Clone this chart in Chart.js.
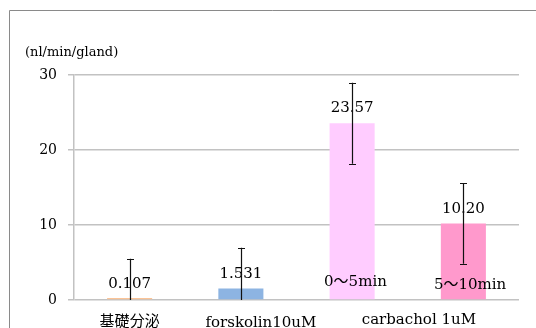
<!DOCTYPE html>
<html>
<head>
<meta charset="utf-8">
<script src="https://cdn.jsdelivr.net/npm/chart.js@4/dist/chart.umd.min.js"></script>
<style>
  html, body { margin: 0; padding: 0; background: #fff; }
  #wrap { width: 536px; height: 328px; position: relative; }
</style>
</head>
<body>
<div id="wrap"><canvas id="c" width="536" height="328"></canvas></div>
<script>
// Secretion rate per gland
const categories = ['basal', 'forskolin', 'carbachol-0-5', 'carbachol-5-10'];
const values = [0.107, 1.531, 23.57, 10.20];
const valueLabels = ['0.107', '1.531', '23.57', '10.20'];
const errors = [5.4, 5.45, 5.4, 5.37];
const barColors = ['#FBC396', '#8DB4E2', '#FFCCFF', '#FF99CC'];
const yTicks = [0, 10, 20, 30];
const yUnit = '(nl/min/gland)';

// Group captions under the axis, placed in category units
const groupLabels = ['基礎分泌', 'forskolin10uM', 'carbachol 1uM'];
const groupPos = [0, 1.18, 2.6];
const groupBaseline = [326, 327, 324];
// Captions written at the foot of the carbachol bars
const subLabels = ['0～5min', '5～10min'];
const subPos = [2.03, 3.06];
const subMiddle = [282, 285];

const SERIF = '"DejaVu Serif", "Noto Sans CJK JP", serif';

const frame = {
  id: 'frame',
  beforeDraw(chart) {
    const ctx = chart.ctx;
    ctx.save();
    ctx.strokeStyle = '#8a8a8a';
    ctx.lineWidth = 1;
    ctx.beginPath();
    ctx.moveTo(9.5, chart.height);
    ctx.lineTo(9.5, 10.5);
    ctx.lineTo(chart.width, 10.5);
    ctx.stroke();
    ctx.restore();
  }
};

const annotations = {
  id: 'annotations',
  afterDatasetsDraw(chart) {
    const ctx = chart.ctx;
    const xs = chart.scales.x;
    const ys = chart.scales.y;
    const meta = chart.getDatasetMeta(0);
    const area = chart.chartArea;
    ctx.save();
    ctx.fillStyle = '#000';
    ctx.textAlign = 'center';

    // value labels above each bar
    ctx.font = '15px ' + SERIF;
    ctx.textBaseline = 'alphabetic';
    meta.data.forEach((bar, i) => {
      const top = ys.getPixelForValue(values[i]);
      ctx.fillText(valueLabels[i], bar.x, top - 11);
    });

    // captions inside the carbachol bars
    ctx.textBaseline = 'middle';
    subLabels.forEach((t, i) => {
      ctx.fillText(t, xs.getPixelForValue(subPos[i]), subMiddle[i]);
    });

    // group captions under the axis
    ctx.textBaseline = 'alphabetic';
    groupLabels.forEach((t, i) => {
      ctx.fillText(t, xs.getPixelForValue(groupPos[i]), groupBaseline[i]);
    });

    // y unit caption
    ctx.font = '13px ' + SERIF;
    ctx.textAlign = 'left';
    ctx.textBaseline = 'middle';
    ctx.fillText(yUnit, area.left - 49, area.top - 22);

    // error bars
    ctx.strokeStyle = '#111';
    ctx.lineWidth = 1.2;
    meta.data.forEach((bar, i) => {
      const x = Math.round(bar.x) + 0.5;
      const top = ys.getPixelForValue(values[i] + errors[i]);
      const lowRaw = ys.getPixelForValue(values[i] - errors[i]);
      const low = Math.min(lowRaw, area.bottom);
      ctx.beginPath();
      ctx.moveTo(x, top);
      ctx.lineTo(x, low);
      ctx.moveTo(x - 3.5, Math.round(top) + 0.5);
      ctx.lineTo(x + 3.5, Math.round(top) + 0.5);
      if (lowRaw <= area.bottom) {
        ctx.moveTo(x - 3.5, Math.round(low) + 0.5);
        ctx.lineTo(x + 3.5, Math.round(low) + 0.5);
      }
      ctx.stroke();
    });
    ctx.restore();
  }
};

new Chart(document.getElementById('c'), {
  type: 'bar',
  data: {
    labels: categories,
    datasets: [{
      data: values,
      backgroundColor: barColors,
      borderWidth: 0,
      minBarLength: 2,
      barPercentage: 0.405,
      categoryPercentage: 1
    }]
  },
  options: {
    responsive: false,
    animation: false,
    devicePixelRatio: 1,
    layout: { padding: { left: 0, top: 75, right: 17, bottom: 28 } },
    plugins: { legend: { display: false }, tooltip: { enabled: false } },
    scales: {
      x: { display: false },
      y: {
        min: 0,
        max: 30,
        afterBuildTicks(scale) { scale.ticks = yTicks.map(v => ({ value: v })); },
        afterFit(scale) { scale.width = 74; },
        grid: { color: '#c2c2c2', lineWidth: 1.5, tickLength: 6, drawTicks: true },
        border: { color: '#c2c2c2', width: 1.5 },
        ticks: {
          color: '#000',
          padding: 11,
          font: { family: SERIF, size: 14 }
        }
      }
    }
  },
  plugins: [frame, annotations]
});
</script>
</body>
</html>
